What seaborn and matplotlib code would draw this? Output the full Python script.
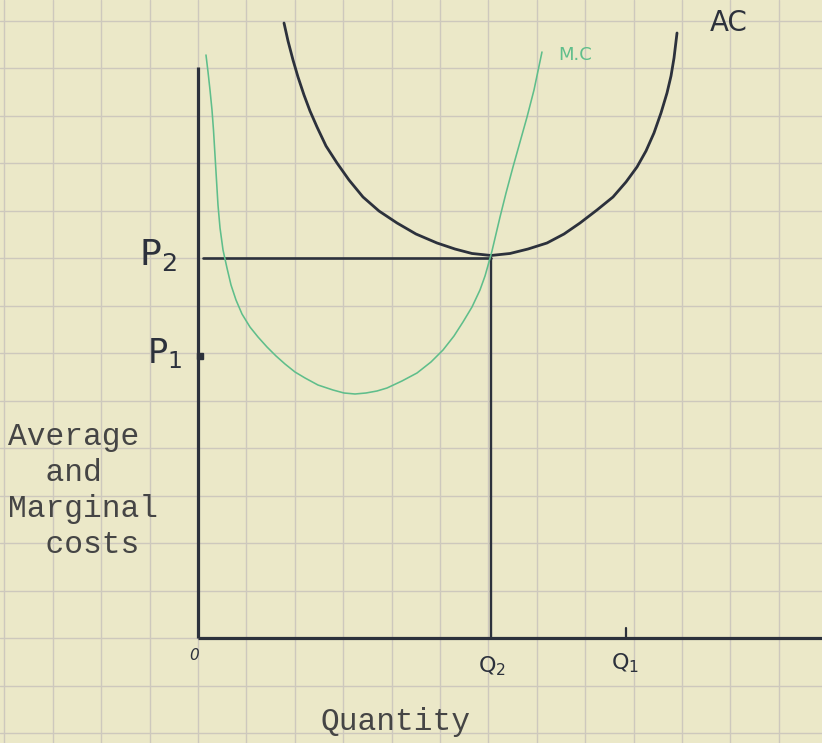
import matplotlib
matplotlib.use("Agg")
import matplotlib.pyplot as plt
import seaborn as sns
import numpy as np

# Average cost curve (quantity, cost) in grid-square units
ac_q = [1.777, 1.860, 1.963, 2.066, 2.190, 2.314, 2.459, 2.645, 2.872, 3.120,
        3.409, 3.740, 4.112, 4.504, 4.938, 5.310, 5.661, 6.054, 6.446, 6.818,
        7.211, 7.562, 7.893, 8.244, 8.574, 8.843, 9.070, 9.256, 9.421, 9.566,
        9.690, 9.773, 9.835, 9.897]
ac_c = [12.947, 12.568, 12.168, 11.811, 11.432, 11.095, 10.758, 10.358, 10.000, 9.642,
        9.284, 8.989, 8.737, 8.505, 8.316, 8.189, 8.095, 8.053, 8.095, 8.189,
        8.316, 8.505, 8.737, 9.011, 9.284, 9.600, 9.916, 10.253, 10.632, 11.053,
        11.474, 11.832, 12.211, 12.737]

# Marginal cost curve
mc_q = [0.165, 0.207, 0.248, 0.289, 0.320, 0.351, 0.382, 0.413, 0.455, 0.517,
        0.599, 0.682, 0.785, 0.909, 1.074, 1.240, 1.426, 1.612, 1.798, 2.004,
        2.211, 2.479, 2.789, 3.017, 3.244, 3.471, 3.698, 3.905, 4.215, 4.525,
        4.814, 5.062, 5.289, 5.475, 5.661, 5.826, 5.930, 6.012, 6.074, 6.157,
        6.240, 6.364, 6.508, 6.653, 6.798, 6.942, 7.107]
mc_c = [12.274, 11.916, 11.537, 11.116, 10.695, 10.168, 9.642, 9.116, 8.632, 8.168,
        7.789, 7.432, 7.116, 6.821, 6.547, 6.337, 6.126, 5.937, 5.768, 5.600,
        5.474, 5.326, 5.221, 5.158, 5.137, 5.158, 5.200, 5.263, 5.411, 5.579,
        5.811, 6.063, 6.358, 6.653, 6.968, 7.326, 7.621, 7.916, 8.147, 8.505,
        8.863, 9.368, 9.916, 10.442, 10.968, 11.537, 12.337]

# Marked levels
q_labels = [r"Q$_2$", r"Q$_1$"]
q_values = [6.05, 8.84]
p_labels = [r"P$_2$", r"P$_1$"]
p_values = [8.00, 5.94]
y_axis_top = 12.02
y_label_lines = ["Average", "  and", "Marginal", "  costs"]
x_label = "Quantity"

paper = "#ebe8c8"
grid_col = "#cdc8bd"
ink = "#2c313c"
green = "#5fbe8b"
type_ink = "#454545"

sns.set_theme(style="whitegrid", rc={
    "axes.facecolor": paper,
    "figure.facecolor": paper,
    "grid.color": grid_col,
    "grid.linewidth": 1.0,
})
plt.rcParams["font.family"] = ["DejaVu Sans"]
plt.rcParams["mathtext.fontset"] = "dejavusans"
plt.rcParams["mathtext.default"] = "regular"

fig = plt.figure(figsize=(8.22, 7.43), dpi=100)
ax = fig.add_axes([0, 0, 1, 1])
ax.set_xlim(-198 / 48.4, 624 / 48.4)
ax.set_ylim(-105 / 47.5, 638 / 47.5)
ax.set_xticks(np.arange(-4, 13))
ax.set_yticks(np.arange(-2, 14))
ax.tick_params(length=0, labelbottom=False, labelleft=False)
for s in ax.spines.values():
    s.set_visible(False)
ax.grid(True, zorder=0)

# axes of the diagram
ax.plot([0, 0], [0, y_axis_top], color=ink, lw=2.3, solid_capstyle="butt", zorder=3)
ax.plot([0, 13.5], [0, 0], color=ink, lw=2.3, solid_capstyle="butt", zorder=3)

# price and quantity guides
q2, q1 = q_values
p2, p1 = p_values
ax.plot([0.1, q2], [p2, p2], color=ink, lw=1.9, zorder=3)
ax.plot([q2, q2], [0, p2], color=ink, lw=1.7, zorder=3)
ax.plot([q1, q1], [0, 0.22], color=ink, lw=1.6, zorder=3)
ax.plot([0.04], [p1], marker="s", ms=4.5, color=ink, zorder=4)

# cost curves
sns.lineplot(x=ac_q, y=ac_c, sort=False, estimator=None, color=ink, lw=2.0, ax=ax, zorder=5)
sns.lineplot(x=mc_q, y=mc_c, sort=False, estimator=None, color=green, lw=1.15, ax=ax, zorder=6)

def px(xp, yp):
    return (xp - 198) / 48.4, (638 - yp) / 47.5

ax.text(*px(729, 23), "AC", fontsize=20, color=ink, ha="center", va="center")
ax.text(*px(575, 55), "M.C", fontsize=13, color=green, ha="center", va="center")

# price labels
for lab, (xl, yb, fs) in zip(p_labels, [(139, 265, 26), (147, 363, 24)]):
    ax.text(*px(xl, yb), lab, fontsize=fs, color=ink, ha="left", va="baseline")

# quantity labels
for lab, (xl, yb) in zip(q_labels, [(478, 672), (611, 669)]):
    ax.text(*px(xl, yb), lab, fontsize=16, color=ink, ha="left", va="baseline")
ax.text(*px(194, 656), "0", fontsize=11, style="italic", color=ink, ha="center", va="center")

mono = dict(family="Liberation Mono", color=type_ink, ha="left", va="center", fontsize=22.5)
for i, line in enumerate(y_label_lines):
    ax.text(*px(8, 437 + 36 * i), line, **mono)
ax.text(*px(320, 722), x_label, **mono)

fig.savefig("out.png", dpi=100, facecolor=paper)
